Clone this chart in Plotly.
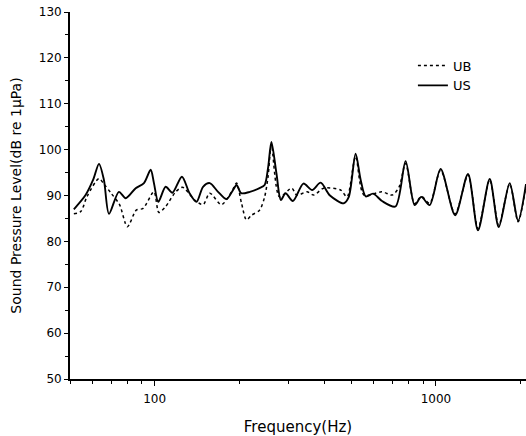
import numpy as np
import plotly.graph_objects as go

# US (solid) series
us_freq = [51.6, 56.8, 60.5, 63.4, 66.0, 68.8, 74.6, 78.9, 85.6, 91.6, 96.8, 99.4,
           103, 109.4, 115.6, 125, 133, 140.8, 148.6, 157, 168, 180, 190, 195.5,
           203, 218, 236, 246, 253, 260, 271, 281, 292, 310, 338, 363, 389, 420,
           470, 490, 518, 540, 563, 598, 643, 718, 780, 840, 887, 950, 1039, 1170,
           1300, 1411, 1553, 1672, 1829, 1959, 2090]
us_spl = [87.0, 90.1, 93.5, 96.9, 93.4, 86.0, 90.8, 89.4, 91.6, 92.7, 95.6, 92.7,
          88.6, 91.9, 90.6, 94.1, 90.5, 88.6, 91.9, 92.7, 90.8, 89.2, 91.2, 92.3,
          90.5, 90.8, 91.6, 92.3, 96.0, 101.7, 94.8, 89.0, 90.5, 88.8, 92.6, 91.2, 92.8, 90.0,
          88.3, 89.7, 99.1, 93.4, 89.8, 90.4, 88.8, 87.6, 97.5, 87.9, 89.7, 87.9, 95.8, 85.7,
          94.7, 82.4, 93.6, 83.1, 92.7, 84.5, 92.5]

# UB (dashed) series
ub_freq = [51.6, 54.6, 57.5, 63.4, 66.0, 70, 75, 80, 86, 91, 99.4, 103.5, 109.4,
           118.8, 125.5, 138.8, 148.6, 157, 172.7, 187.6, 195.5, 203.6, 212, 221,
           236, 246, 253, 260, 278, 307, 320, 348, 368, 399, 458, 483, 518, 555,
           643, 699, 740, 780, 840, 887, 950, 1039, 1170, 1300, 1411, 1553, 1672,
           1829, 1959, 2090]
ub_spl = [86.0, 86.5, 89.8, 93.7, 92.5, 90.5, 88.0, 83.2, 86.8, 87.2, 90.8, 86.3, 87.6,
          90.8, 91.8, 89.0, 88.0, 90.5, 88.0, 90.8, 92.7, 88.3, 84.7, 85.7,
          86.8, 89.7, 94.1, 101.0, 89.7, 91.6, 90.1, 90.8, 90.1, 91.6, 91.2, 89.7, 98.5, 90.1,
          90.8, 90.1, 91.9, 97.0, 88.2, 89.8, 88.3, 95.5, 86.0, 94.5, 82.8, 93.4, 83.5,
          92.5, 84.3, 92.3]

FONT = "DejaVu Sans, Liberation Sans, Arial, sans-serif"

fig = go.Figure()
fig.add_trace(go.Scatter(x=ub_freq, y=ub_spl, mode="lines", name="UB",
                         line=dict(color="black", width=1.5, dash="3px,3px",
                                   shape="spline", smoothing=0.8)))
fig.add_trace(go.Scatter(x=us_freq, y=us_spl, mode="lines", name="US",
                         line=dict(color="black", width=1.9,
                                   shape="spline", smoothing=0.8)))

fig.update_layout(
    width=526, height=436,
    margin=dict(l=70, r=0, t=12, b=57),
    paper_bgcolor="white", plot_bgcolor="white",
    font=dict(family=FONT, size=12, color="black"),
    showlegend=True,
    legend=dict(x=0.752, y=0.895, xanchor="left", yanchor="top",
                bgcolor="rgba(0,0,0,0)", font=dict(size=13),
                tracegroupgap=0, itemwidth=30),
    xaxis=dict(
        type="log", range=[np.log10(50), np.log10(2090)],
        automargin=False,
        showline=True, linecolor="black", linewidth=1.8,
        showgrid=False, zeroline=False,
        tickmode="array", tickvals=[100, 1000], ticktext=["100", "1000"],
        ticks="outside", ticklen=5, tickwidth=1.4, tickcolor="black",
        ticklabelstandoff=3,
        minor=dict(tickmode="array",
                   tickvals=[50, 60, 70, 80, 90, 200, 300, 400, 500, 600, 700, 800, 900, 2000],
                   ticks="outside", ticklen=3, tickwidth=1.3, tickcolor="black",
                   showgrid=False),
        title=dict(text="Frequency(Hz)", font=dict(size=15), standoff=18),
    ),
    yaxis=dict(
        range=[50, 130],
        automargin=False,
        ticklabeloverflow="allow",
        showline=True, linecolor="black", linewidth=1.8,
        showgrid=False, zeroline=False,
        tickmode="linear", tick0=50, dtick=10,
        ticks="outside", ticklen=4, tickwidth=1.4, tickcolor="black",
        minor=dict(dtick=5, ticks="outside", ticklen=3, tickwidth=1.3,
                   tickcolor="black", showgrid=False),
        title=dict(text="Sound Pressure Level(dB re 1μPa)", font=dict(size=14), standoff=14),
    ),
)

fig.write_html(
    "out.html",
    config={"displayModeBar": False},
    post_script="document.body.style.margin='0';document.body.style.overflow='hidden';",
)
